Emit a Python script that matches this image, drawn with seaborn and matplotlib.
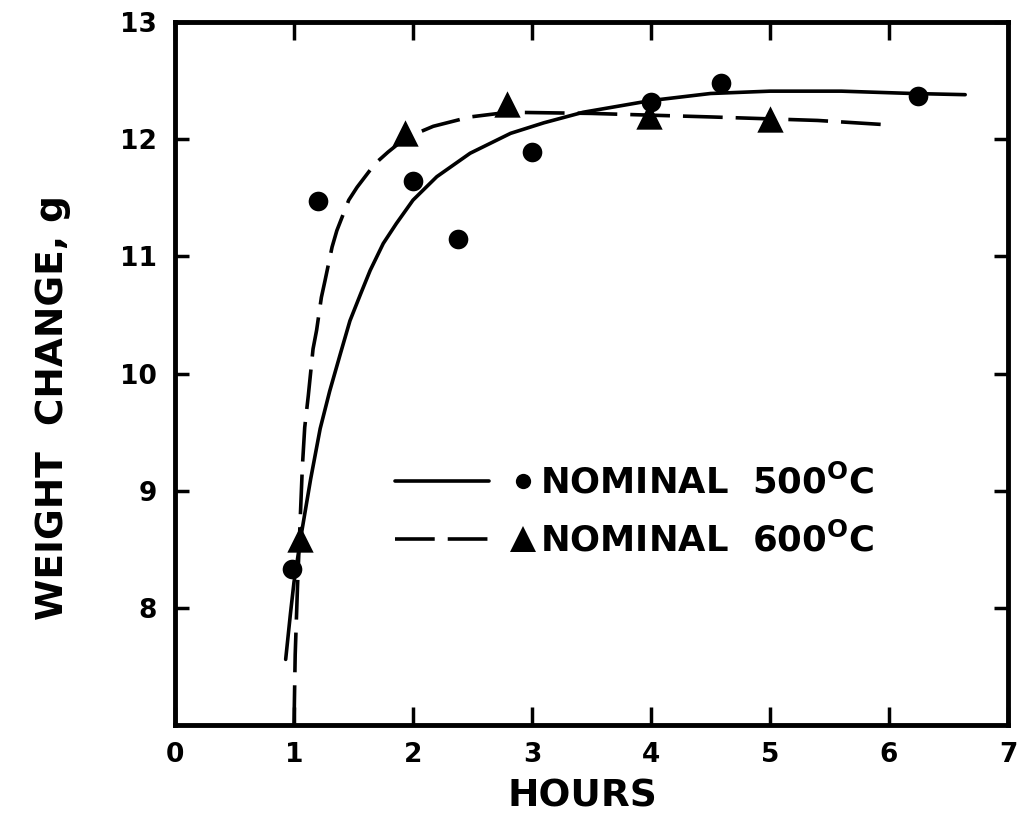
import matplotlib

matplotlib.use("Agg")
import matplotlib.pyplot as plt
from matplotlib.legend_handler import HandlerBase
from matplotlib.lines import Line2D
import seaborn as sns
import pandas as pd

# measured points, 500 C run (circles)
hours_500 = [0.98, 1.20, 2.00, 2.38, 3.00, 4.00, 4.59, 6.24]
weight_500 = [8.33, 11.47, 11.64, 11.15, 11.89, 12.32, 12.48, 12.37]

# measured points, 600 C run (triangles)
hours_600 = [1.05, 1.93, 2.79, 3.98, 5.00]
weight_600 = [8.59, 12.05, 12.30, 12.20, 12.17]

# fitted curve 500 C (solid)
fit_500_x = [0.93, 0.97, 1.00, 1.06, 1.14, 1.22, 1.30, 1.39, 1.47, 1.56, 1.64, 1.75,
             1.86, 2.00, 2.20, 2.48, 2.82, 3.10, 3.43, 4.00, 4.50, 5.00, 5.60, 6.20, 6.64]
fit_500_y = [7.56, 7.95, 8.22, 8.62, 9.10, 9.53, 9.85, 10.17, 10.45, 10.68, 10.88, 11.11,
             11.28, 11.48, 11.68, 11.88, 12.05, 12.14, 12.23, 12.33, 12.39, 12.41, 12.41,
             12.39, 12.38]

# fitted curve 600 C (dashed)
fit_600_x = [1.00, 1.01, 1.03, 1.05, 1.07, 1.09, 1.12, 1.16, 1.19, 1.23, 1.26, 1.32, 1.36,
             1.46, 1.53, 1.68, 1.79, 1.90, 2.03, 2.17, 2.48, 2.80, 3.50, 4.50, 5.40, 6.03]
fit_600_y = [7.00, 7.60, 8.20, 8.70, 9.20, 9.54, 9.81, 10.21, 10.37, 10.65, 10.79, 11.08,
             11.22, 11.48, 11.59, 11.79, 11.89, 11.98, 12.05, 12.11, 12.19, 12.23, 12.22,
             12.19, 12.16, 12.12]

x_ticks = [0, 1, 2, 3, 4, 5, 6, 7]
y_ticks = [8, 9, 10, 11, 12, 13]
labels = ["NOMINAL  500$^{\\mathrm{O}}$C", "NOMINAL  600$^{\\mathrm{O}}$C"]

LW = 2.6
DASH = (0, (11, 3.6))

sns.set_style("white")
plt.rcParams["font.family"] = ["DejaVu Sans"]
plt.rcParams["font.weight"] = "bold"
plt.rcParams["text.color"] = "black"
plt.rcParams["xtick.color"] = "black"
plt.rcParams["ytick.color"] = "black"
plt.rcParams["axes.labelcolor"] = "black"


class LineMarkerHandler(HandlerBase):
    """line sample on the left, marker on the right, like the old plot"""

    def create_artists(self, legend, orig_handle, xdescent, ydescent, width, height, fontsize, trans):
        y = height / 2 - ydescent
        x0 = -xdescent
        ls = "-" if orig_handle.get_linestyle() == "-" else DASH
        seg = Line2D([x0, x0 + 0.70 * width], [y, y], color="black", lw=LW,
                     linestyle=ls, transform=trans)
        mk = Line2D([x0 + 0.95 * width], [y], color="black", linestyle="none",
                    marker=orig_handle.get_marker(), markersize=orig_handle.get_markersize(),
                    markeredgewidth=0, transform=trans)
        return [seg, mk]


fig = plt.figure(figsize=(10.24, 8.22), dpi=100)
ax = fig.add_axes([0.1709, 0.118, 0.8135, 0.8552])

df_fit5 = pd.DataFrame({"x": fit_500_x, "y": fit_500_y})
df_fit6 = pd.DataFrame({"x": fit_600_x, "y": fit_600_y})
sns.lineplot(data=df_fit5, x="x", y="y", sort=False, estimator=None, color="black",
             lw=LW, ax=ax)
sns.lineplot(data=df_fit6, x="x", y="y", sort=False, estimator=None, color="black",
             lw=LW, linestyle=DASH, ax=ax)

sns.scatterplot(x=hours_500, y=weight_500, marker="o", s=200, color="black",
                linewidth=0, zorder=3, ax=ax)
sns.scatterplot(x=hours_600, y=weight_600, marker="^", s=360, color="black",
                linewidth=0, zorder=3, ax=ax)

ax.set_xlim(0, 7)
ax.set_ylim(7, 13)
ax.set_xticks(x_ticks)
ax.set_yticks(y_ticks)
ax.set_xticklabels([str(t) for t in x_ticks])
ax.set_yticklabels([str(t) for t in y_ticks])
ax.tick_params(axis="x", direction="in", length=13, width=2.5, pad=12, labelsize=19,
               top=True, bottom=True)
ax.tick_params(axis="y", direction="in", length=10, width=2.5, pad=13, labelsize=19,
               left=True, right=True)
for lab in ax.get_xticklabels() + ax.get_yticklabels():
    lab.set_fontweight("bold")
for sp in ax.spines.values():
    sp.set_linewidth(3.5)
    sp.set_color("black")

ax.set_xlabel("HOURS", fontsize=27, fontweight="bold", va="center")
ax.xaxis.set_label_coords(0.489, -0.102)
ax.set_ylabel("WEIGHT  CHANGE, g", fontsize=27, fontweight="bold", va="center")
ax.yaxis.set_label_coords(-0.1465, 0.452)

proxies = [
    Line2D([], [], color="black", linestyle="-", marker="o", markersize=11),
    Line2D([], [], color="black", linestyle="--", marker="^", markersize=19),
]
ax.legend(proxies, labels, handler_map={Line2D: LineMarkerHandler()},
          loc="center left", bbox_to_anchor=(0.264, 0.3037), frameon=False,
          fontsize=25.5, handlelength=3.8, handletextpad=0.3, labelspacing=0.6,
          borderpad=0, borderaxespad=0)
for t in ax.get_legend().get_texts():
    t.set_fontweight("bold")
    t.set_color("black")

fig.savefig("out.png", dpi=100)
